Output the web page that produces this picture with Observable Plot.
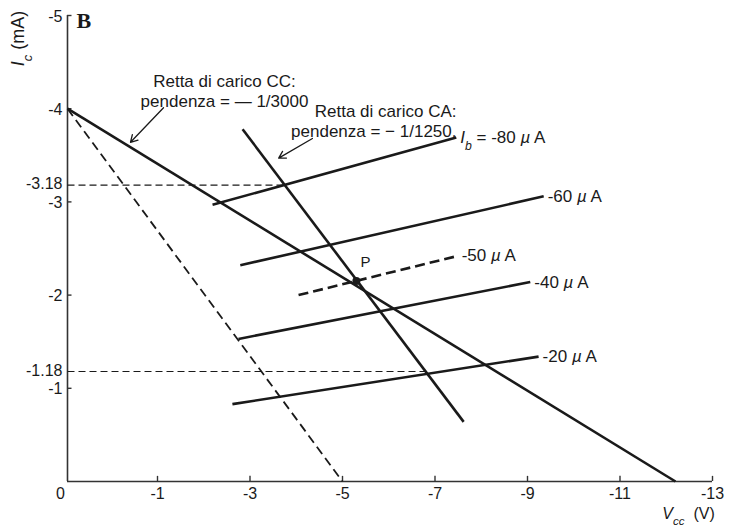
<!DOCTYPE html>
<html><head><meta charset="utf-8">
<script src="https://cdn.jsdelivr.net/npm/d3@7"></script>
<script src="https://cdn.jsdelivr.net/npm/@observablehq/plot@0.6"></script>
<style>body{margin:0;background:#fff}</style>
</head><body><div id="chart"></div>
<script>
// Axis ticks
const xTickValues = [0, -1, -3, -5, -7, -9, -11, -13];
const yTickValues = [-5, -4, -3, -2, -1];
const yMarkedValues = [-3.18, -1.18];

// Output characteristics (Ib curves), Vce (V) and Ic (mA) at each end
const curveLabels = ["Ib = -80 µA", "-60 µA", "-50 µA", "-40 µA", "-20 µA"];
const curveIb = [-80, -60, -50, -40, -20];
const curveV1 = [-2.19, -2.79, -4.05, -2.75, -2.62];
const curveI1 = [-2.97, -2.32, -2.00, -1.53, -0.83];
const curveV2 = [-7.46, -9.35, -7.49, -9.06, -9.24];
const curveI2 = [-3.69, -3.06, -2.42, -2.14, -1.34];

// Load lines
const loadNames = ["CC", "CA", "CA origine"];
const loadV1 = [0, -2.84, 0];
const loadI1 = [-4, -3.78, -4];
const loadV2 = [-12.2, -7.62, -5];
const loadI2 = [0, -0.64, 0];
const loadDashed = [false, false, true];

// Horizontal guides to the marked currents
const guideI = [-3.18, -1.18];
const guideV = [-3.72, -6.79];

// Operating point
const pointLabel = ["P"];
const pointV = [-5.30];
const pointI = [-2.15];

// Annotations with arrows
const noteTexts = ["Retta di carico CC:\npendenza = — 1/3000", "Retta di carico CA:\npendenza = − 1/1250."];
const arrowV1 = [-1.13, -4.35];
const arrowI1 = [-4.01, -3.68];
const arrowV2 = [-0.70, -3.62];
const arrowI2 = [-3.64, -3.47];

const curves = curveIb.map((ib, i) => ({ib, label: curveLabels[i], v1: curveV1[i], i1: curveI1[i], v2: curveV2[i], i2: curveI2[i]}));
const loads = loadNames.map((name, i) => ({name, v1: loadV1[i], i1: loadI1[i], v2: loadV2[i], i2: loadI2[i], dashed: loadDashed[i]}));
const guides = guideI.map((iv, k) => ({i: iv, v: guideV[k]}));
const points = pointLabel.map((p, k) => ({p, v: pointV[k], i: pointI[k]}));
const arrows = arrowV1.map((v, k) => ({v1: v, i1: arrowI1[k], v2: arrowV2[k], i2: arrowI2[k]}));

const ink = "#1a1a1a";
const font = "Liberation Sans, Arial, Helvetica, sans-serif";

const svg = Plot.plot({
  width: 731,
  height: 530,
  marginTop: 0, marginRight: 0, marginBottom: 0, marginLeft: 0,
  style: {fontFamily: font, fontSize: "15px", color: ink, background: "#fff"},
  x: {type: "linear", domain: [0, -1, -13], range: [67, 157, 712], axis: null},
  y: {type: "linear", domain: [0, -5], range: [481, 15], axis: null},
  marks: [
    // axes
    Plot.ruleX([0], {y1: 0, y2: -5, stroke: "#333", strokeWidth: 1.6}),
    Plot.ruleY([0], {x1: 0, x2: -13, stroke: "#333", strokeWidth: 1.6}),
    Plot.ruleY(yTickValues, {x1: 0, x2: -0.05, stroke: "#333", strokeWidth: 1.4}),
    Plot.ruleX(xTickValues.slice(1), {y1: 0, y2: -0.055, stroke: "#333", strokeWidth: 1.4}),
    // guides
    Plot.link(guides, {x1: 0, y1: "i", x2: "v", y2: "i", stroke: ink, strokeWidth: 1.1, strokeDasharray: "7,4"}),
    // load lines
    Plot.link(loads.filter(d => !d.dashed), {x1: "v1", y1: "i1", x2: "v2", y2: "i2", stroke: ink, strokeWidth: 2.6}),
    Plot.link(loads.filter(d => d.dashed), {x1: "v1", y1: "i1", x2: "v2", y2: "i2", stroke: ink, strokeWidth: 1.8, strokeDasharray: "9,5"}),
    // characteristic curves
    Plot.link(curves.filter(d => d.ib !== -50), {x1: "v1", y1: "i1", x2: "v2", y2: "i2", stroke: ink, strokeWidth: 2.6}),
    Plot.link(curves.filter(d => d.ib === -50), {x1: "v1", y1: "i1", x2: "v2", y2: "i2", stroke: ink, strokeWidth: 2.6, strokeDasharray: "10,5"}),
    Plot.text(curves, {x: "v2", y: "i2", text: "label", dx: 4, textAnchor: "start", lineAnchor: "middle", fontSize: 17, fill: ink}),
    // operating point
    Plot.dot(points, {x: "v", y: "i", r: 4, fill: ink, stroke: "none"}),
    Plot.text(points, {x: "v", y: "i", text: "p", dx: 9, dy: -19, fontSize: 15, fill: ink}),
    // annotation arrows
    Plot.arrow(arrows, {x1: "v1", y1: "i1", x2: "v2", y2: "i2", stroke: ink, strokeWidth: 1.3, headLength: 9}),
    Plot.text([noteTexts[0]], {frameAnchor: "top-left", dx: 224, dy: 90, textAnchor: "middle", lineAnchor: "middle", lineHeight: 1.18, fontSize: 17, fill: ink}),
    Plot.text([noteTexts[1]], {frameAnchor: "top-left", dx: 456, dy: 120, textAnchor: "end", lineAnchor: "middle", lineHeight: 1.18, fontSize: 17, fill: ink}),
    // tick labels
    Plot.text(yTickValues, {x: 0, y: d => d, text: d => String(d), dx: -5, dy: 1, textAnchor: "end", lineAnchor: "middle", fontSize: 16, fill: ink}),
    Plot.text(yMarkedValues, {x: 0, y: d => d, text: d => String(d), dx: -5, dy: -1, textAnchor: "end", lineAnchor: "middle", fontSize: 16, fill: ink}),
    Plot.text([xTickValues[0]], {x: d => d, y: 0, text: d => String(d), dx: -7, dy: 12, lineAnchor: "middle", fontSize: 16, fill: ink}),
    Plot.text(xTickValues.slice(1), {x: d => d, y: 0, text: d => String(d), dy: 12, lineAnchor: "middle", fontSize: 16, fill: ink}),
    // axis titles and panel letter
    Plot.text(["Ic (mA)"], {frameAnchor: "top-left", dx: 18, dy: 38, rotate: -90, textAnchor: "middle", lineAnchor: "middle", fontSize: 18, fill: ink}),
    Plot.text(["Vcc (V)"], {frameAnchor: "top-left", dx: 688, dy: 513, textAnchor: "middle", lineAnchor: "middle", fontSize: 16, fill: ink}),
    Plot.text(["B"], {frameAnchor: "top-left", dx: 76, dy: 20, textAnchor: "start", lineAnchor: "middle", fontSize: 22, fontWeight: "bold", fontFamily: "Liberation Serif, DejaVu Serif, serif", fill: ink})
  ]
});

// Rich text: italic symbols and subscripts
function richify(match, parts) {
  d3.select(svg).selectAll("text").filter(function() { return this.textContent === match; }).each(function() {
    const t = d3.select(this);
    t.text(null);
    parts.forEach(([s, kind]) => {
      const ts = t.append("tspan").text(s);
      if (kind === "i" || kind === "isub") ts.attr("font-style", "italic");
      if (kind === "isub") ts.attr("baseline-shift", "sub").attr("font-size", "0.72em");
    });
  });
}
richify("Ib = -80 µA", [["I", "i"], ["b", "isub"], [" = -80 ", ""], ["µ", "i"], [" A", ""]]);
["-60 µA", "-50 µA", "-40 µA", "-20 µA"].forEach(s => {
  const num = s.split(" ")[0];
  richify(s, [[num + " ", ""], ["µ", "i"], [" A", ""]]);
});
richify("Ic (mA)", [["I", "i"], ["c", "isub"], [" (mA)", ""]]);
richify("Vcc (V)", [["V", "i"], ["cc", "isub"], ["  (V)", ""]]);

document.getElementById("chart").appendChild(svg);
</script>
</body></html>
